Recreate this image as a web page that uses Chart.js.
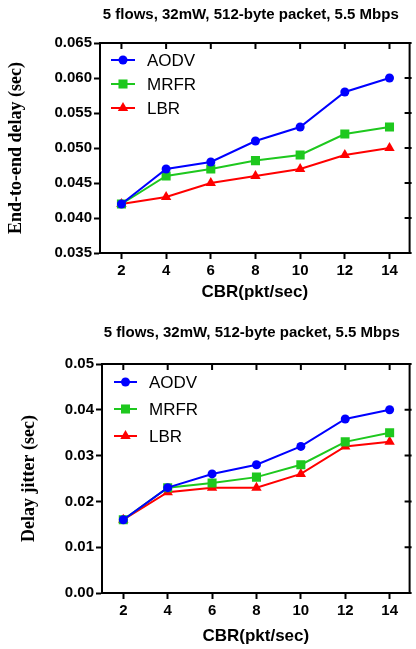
<!DOCTYPE html>
<html>
<head>
<meta charset="utf-8">
<script src="https://cdn.jsdelivr.net/npm/chart.js@4.4.0/dist/chart.umd.min.js"></script>
<style>
  body { margin: 0; background: #fff; width: 416px; height: 649px; overflow: hidden; }
  .box { position: absolute; left: 0; width: 416px; }
</style>
</head>
<body>
<div class="box" style="top:0;height:320px"><canvas id="delay"></canvas></div>
<div class="box" style="top:320px;height:329px"><canvas id="jitter"></canvas></div>
<script>
const cbr = [2, 4, 6, 8, 10, 12, 14];
const names = ["AODV", "MRFR", "LBR"];

// end-to-end delay (sec)
const delayAodv = [0.042, 0.047, 0.048, 0.051, 0.053, 0.058, 0.060];
const delayMrfr = [0.042, 0.046, 0.047, 0.0482, 0.049, 0.052, 0.053];
const delayLbr  = [0.042, 0.043, 0.045, 0.046, 0.047, 0.049, 0.050];
const delayTicks = [0.035, 0.040, 0.045, 0.050, 0.055, 0.060, 0.065];

// delay jitter (sec)
const jitterAodv = [0.016, 0.023, 0.026, 0.028, 0.032, 0.038, 0.040];
const jitterMrfr = [0.016, 0.023, 0.024, 0.0253, 0.028, 0.033, 0.035];
const jitterLbr  = [0.016, 0.022, 0.023, 0.023, 0.026, 0.032, 0.033];
const jitterTicks = [0.00, 0.01, 0.02, 0.03, 0.04, 0.05];

const title = "5 flows, 32mW, 512-byte packet, 5.5 Mbps";
const SANS = '"Liberation Sans", Arial, sans-serif';
const SERIF = '"Liberation Serif", "Times New Roman", serif';

const styles = [
  { color: "#0000ff", pointStyle: "circle", radius: 4.5 },
  { color: "#1ec81e", pointStyle: "rect", radius: 6.4 },
  { color: "#ff0000", pointStyle: "triangle", radius: 6 }
];

// box on top/right with inward ticks, title and legend inside the plot
const frame = {
  id: "frame",
  afterDraw(chart, args, opts) {
    const { ctx, chartArea: a, scales: { x, y } } = chart;
    ctx.save();
    ctx.strokeStyle = "#000";
    ctx.lineWidth = 2;
    ctx.beginPath();
    ctx.moveTo(a.left, a.top);
    ctx.lineTo(a.right, a.top);
    ctx.lineTo(a.right, a.bottom);
    x.ticks.forEach(t => {
      const px = x.getPixelForValue(t.value);
      ctx.moveTo(px, a.top);
      ctx.lineTo(px, a.top + 6);
    });
    y.ticks.forEach(t => {
      const py = y.getPixelForValue(t.value);
      ctx.moveTo(a.right + 2, py);
      ctx.lineTo(a.right - 5, py);
    });
    ctx.stroke();

    ctx.fillStyle = "#000";
    ctx.font = "bold 15px " + SANS;
    ctx.textAlign = "center";
    ctx.textBaseline = "middle";
    ctx.fillText(title, (a.left + a.right) / 2 - 4, opts.titleY);

    ctx.font = "17px " + SANS;
    ctx.textAlign = "left";
    chart.data.datasets.forEach((ds, i) => {
      const ly = a.top + opts.rowTop + i * opts.rowGap;
      const x0 = a.left + opts.lineX[0], x1 = a.left + opts.lineX[1];
      ctx.strokeStyle = ds.borderColor;
      ctx.lineWidth = 2;
      ctx.beginPath();
      ctx.moveTo(x0, ly);
      ctx.lineTo(x1, ly);
      ctx.stroke();
      ctx.fillStyle = ds.borderColor;
      Chart.helpers.drawPoint(ctx, {
        pointStyle: ds.pointStyle, radius: ds.pointRadius, rotation: 0, borderWidth: 0
      }, (x0 + x1) / 2, ly);
      ctx.fillStyle = "#000";
      ctx.fillText(ds.label, a.left + opts.textX, ly + 1);
    });
    ctx.restore();
  }
};

const makeChart = (id, series, ticks, digits, yTitle, lay) => {
  new Chart(document.getElementById(id), {
    type: "line",
    data: {
      datasets: series.map((vals, i) => ({
        label: names[i],
        data: cbr.map((c, j) => ({ x: c, y: vals[j] })),
        borderColor: styles[i].color,
        backgroundColor: styles[i].color,
        pointBackgroundColor: styles[i].color,
        pointBorderColor: styles[i].color,
        pointBorderWidth: 0,
        pointStyle: styles[i].pointStyle,
        pointRadius: styles[i].radius,
        borderWidth: 2,
        tension: 0
      }))
    },
    options: {
      responsive: true,
      maintainAspectRatio: false,
      animation: false,
      layout: { padding: { left: 0, right: 3, top: lay.top, bottom: 0 } },
      plugins: {
        legend: { display: false },
        tooltip: { enabled: false },
        frame: lay.frame
      },
      scales: {
        x: {
          type: "linear",
          min: 1.04,
          max: 14.9,
          afterBuildTicks: s => { s.ticks = cbr.map(v => ({ value: v })); },
          afterFit: s => { s.height = lay.xHeight; },
          ticks: { color: "#000", font: { family: SANS, size: 15, weight: "bold" }, padding: 3, maxRotation: 0 },
          grid: { drawOnChartArea: false, tickLength: 6, tickWidth: 2, tickColor: "#000" },
          border: { display: true, color: "#000", width: 2 },
          title: {
            display: true, text: "CBR(pkt/sec)", color: "#000",
            font: { family: SANS, size: 17, weight: "bold" },
            padding: { top: 0, bottom: lay.xTitlePad }
          }
        },
        y: {
          min: ticks[0],
          max: ticks[ticks.length - 1],
          afterBuildTicks: s => { s.ticks = ticks.map(v => ({ value: v })); },
          afterFit: s => { s.width = lay.yWidth; },
          ticks: {
            color: "#000", font: { family: SANS, size: 15, weight: "bold" }, padding: 2,
            callback: v => Number(v).toFixed(digits)
          },
          grid: { drawOnChartArea: false, tickLength: 6, tickWidth: 2, tickColor: "#000" },
          border: { display: true, color: "#000", width: 2 },
          title: {
            display: true, text: yTitle, color: "#000",
            font: { family: SERIF, size: 18, weight: "bold" },
            padding: { top: lay.yTitlePad, bottom: 0 }
          }
        }
      }
    },
    plugins: [frame]
  });
};

makeChart("delay", [delayAodv, delayMrfr, delayLbr], delayTicks, 3, "End-to-end delay (sec)", {
  top: 43, xHeight: 67, yWidth: 100, xTitlePad: 17, yTitlePad: 6,
  frame: { titleY: 15, rowTop: 17, rowGap: 24, lineX: [11, 35], textX: 47 }
});

makeChart("jitter", [jitterAodv, jitterMrfr, jitterLbr], jitterTicks, 2, "Delay jitter (sec)", {
  top: 44, xHeight: 56, yWidth: 102, xTitlePad: 2, yTitlePad: 19,
  frame: { titleY: 13, rowTop: 18, rowGap: 27, lineX: [12, 35], textX: 47 }
});
</script>
</body>
</html>
